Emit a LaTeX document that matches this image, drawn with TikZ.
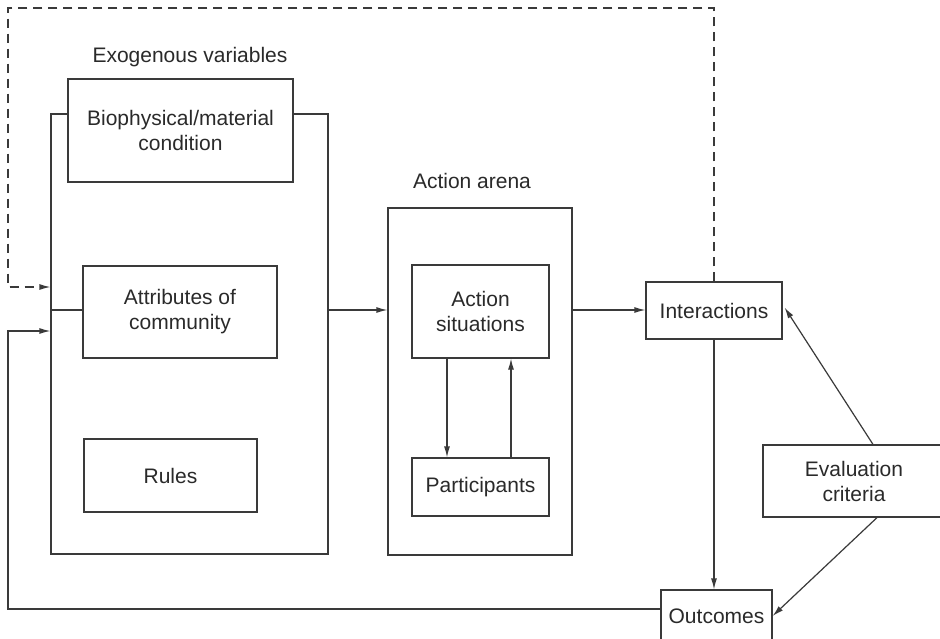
\documentclass[tikz,border=0pt]{standalone}
\usepackage{fontspec}
\setmainfont{Liberation Sans}
\usetikzlibrary{arrows.meta,calc}
\definecolor{ink}{HTML}{3A3A3A}
\definecolor{txt}{HTML}{2A2A2A}
\begin{document}
\begin{tikzpicture}[x=1pt,y=-1pt,
  box/.style={draw=ink, line width=1.2pt, fill=white, inner sep=0pt, align=center,
    text=txt, font=\fontsize{21}{25}\selectfont},
  lbl/.style={text=txt, font=\fontsize{21}{25}\selectfont, inner sep=0pt},
  link/.style={draw=ink, line width=1.2pt},
  arr/.style={link, -{Latex[length=11pt,width=6pt]}},
  dasharr/.style={arr, dash pattern=on 9pt off 6pt}]
\clip (0,0) rectangle (940,638);
\fill[white] (0,0) rectangle (940,638);

% exogenous variables block
\node[box, minimum width=277pt, minimum height=440pt] (exo) at (189.5,334) {};
\node[box, minimum width=225pt, minimum height=103pt] (bio) at (180.5,130.5) {Biophysical/material\\condition};
\node[box, minimum width=194pt, minimum height=92pt] (attr) at (180,312) {Attributes of\\community};
\node[box, minimum width=173pt, minimum height=73pt] (rules) at (170.5,475.5) {Rules};
\node[lbl] (exolbl) at (190,57) {Exogenous variables};

% action arena
\node[box, minimum width=184pt, minimum height=347pt] (arena) at (480,381.5) {};
\node[box, minimum width=137pt, minimum height=93pt] (sit) at (480.5,311.5) {Action\\situations};
\node[box, minimum width=137pt, minimum height=58pt] (part) at (480.5,487) {Participants};
\node[lbl] (arenalbl) at (472,181) {Action arena};

% outcome side
\node[box, minimum width=136pt, minimum height=57pt] (inter) at (714,310.5) {Interactions};
\node[box, minimum width=111pt, minimum height=52pt] (out) at (716.5,616) {Outcomes};
\node[box, minimum width=182pt, minimum height=72pt] (eval) at (854,481) {Evaluation\\criteria};

% helper points for the routed connectors
\coordinate (flow) at (0,310);
\coordinate (dashtop) at (0,8);
\coordinate (dashleft) at (8,0);
\coordinate (dashin) at (0,287);
\coordinate (fbin) at (0,331);
\coordinate (fbout) at (0,609);
\coordinate (evtop) at ($(eval.north)+(19,0)$);
\coordinate (evbot) at ($(eval.south)+(23,0)$);
\coordinate (intin) at ($(inter.east)+(2,-3)$);

% connectors
\draw[link] (attr.west |- flow) -- (exo.west |- flow);
\draw[arr] (exo.east |- flow) -- (arena.west |- flow);
\draw[arr] (arena.east |- flow) -- (inter.west |- flow);
\draw[arr] (sit.south -| 447,0) -- (part.north -| 447,0);
\draw[arr] (part.north -| 511,0) -- (sit.south -| 511,0);
\draw[arr] (inter.south) -- (inter.south |- out.north);
\draw[arr] (evtop) -- (intin);
\draw[arr] (evbot) -- (out.east);
\draw[arr] (out.west |- fbout) -- (fbout -| dashleft) -- (fbin -| dashleft) -- (exo.west |- fbin);
\draw[dasharr] (inter.north) -- (inter.north |- dashtop) -- (dashtop -| dashleft) -- (dashin -| dashleft) -- (exo.west |- dashin);
\end{tikzpicture}
\end{document}
